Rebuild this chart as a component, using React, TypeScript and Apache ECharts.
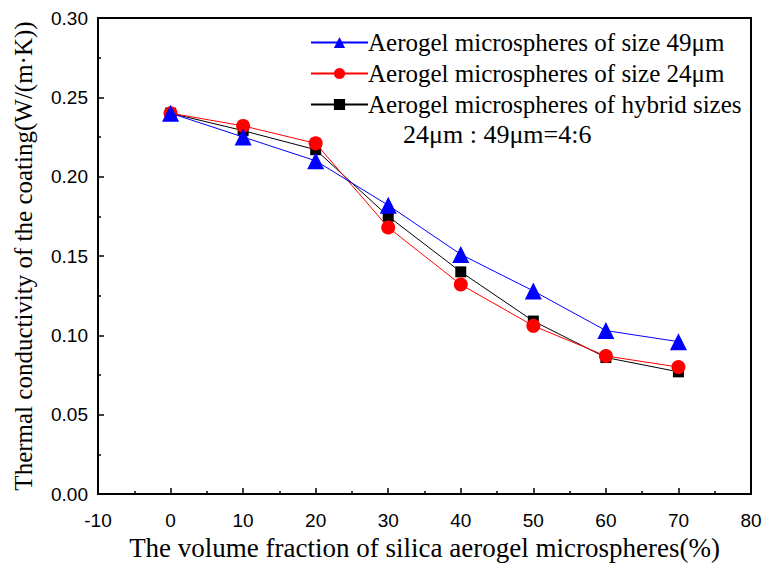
import React, { useEffect, useRef } from "react";
import * as echarts from "echarts";

const xValues = [0, 10, 20, 30, 40, 50, 60, 70];
const size49 = [0.240, 0.225, 0.210, 0.182, 0.151, 0.128, 0.103, 0.096];
const size24 = [0.240, 0.232, 0.221, 0.168, 0.132, 0.106, 0.087, 0.080];
const hybrid = [0.240, 0.229, 0.217, 0.175, 0.140, 0.109, 0.086, 0.077];
const seriesNames = [
  "Aerogel microspheres of size 49μm",
  "Aerogel microspheres of size 24μm",
  "Aerogel microspheres of hybrid sizes",
];
const ratioNote = "24μm : 49μm=4:6";
const xTitle = "The volume fraction of silica aerogel microspheres(%)";
const yTitle = "Thermal conductivity of the coating(W/(m·K))";

export default function App() {
  const ref = useRef<HTMLDivElement>(null);
  useEffect(() => {
    const chart = echarts.init(ref.current!, undefined, { renderer: "svg" });
    const pair = (arr: number[]) => xValues.map((x, i) => [x, arr[i]]);
    const serif = "Liberation Serif";
    const sans = "Liberation Sans";
    chart.setOption({
      animation: false,
      backgroundColor: "#fff",
      grid: {
        left: 98,
        right: 13,
        top: 18,
        bottom: 72,
        containLabel: false,
        outerBoundsMode: "none",
        show: true,
        borderColor: "#000",
        borderWidth: 2,
        backgroundColor: "transparent",
      },
      xAxis: {
        type: "value",
        min: -10,
        max: 80,
        interval: 10,
        name: xTitle,
        nameLocation: "middle",
        nameGap: 40,
        nameTextStyle: { fontFamily: serif, fontSize: 27, color: "#000" },
        axisLine: { onZero: false, lineStyle: { color: "#000", width: 2 } },
        axisTick: { inside: true, length: 6, lineStyle: { color: "#000", width: 1.5 } },
        minorTick: { show: true, splitNumber: 2, length: 3, lineStyle: { color: "#000", width: 1.5 } },
        axisLabel: { fontFamily: sans, fontSize: 19, color: "#000", margin: 17 },
        splitLine: { show: false },
      },
      yAxis: {
        type: "value",
        min: 0,
        max: 0.3,
        interval: 0.05,
        name: yTitle,
        nameLocation: "middle",
        nameGap: 62,
        nameTextStyle: { fontFamily: serif, fontSize: 25, color: "#000" },
        axisLine: { onZero: false, lineStyle: { color: "#000", width: 2 } },
        axisTick: { inside: true, length: 6, lineStyle: { color: "#000", width: 1.5 } },
        minorTick: { show: true, splitNumber: 2, length: 3, lineStyle: { color: "#000", width: 1.5 } },
        axisLabel: {
          fontFamily: sans,
          fontSize: 19,
          color: "#000",
          margin: 10,
          formatter: (v: number) => v.toFixed(2),
        },
        splitLine: { show: false },
      },
      legend: {
        orient: "vertical",
        left: 305,
        top: 25,
        itemWidth: 57,
        itemHeight: 14,
        itemGap: 6,
        textStyle: {
          fontFamily: serif,
          fontSize: 25,
          color: "#000",
          padding: [0, 0, 0, -5],
        },
        data: seriesNames,
      },
      graphic: [
        {
          type: "text",
          left: 403,
          top: 121,
          style: { text: ratioNote, fontFamily: serif, fontSize: 26, fill: "#000" },
        },
      ],
      series: [
        {
          name: seriesNames[0],
          type: "line",
          data: pair(size49),
          symbol: "triangle",
          symbolSize: 17,
          itemStyle: { color: "#0000ff" },
          lineStyle: { color: "#0000ff", width: 1 },
          z: 3,
        },
        {
          name: seriesNames[1],
          type: "line",
          data: pair(size24),
          symbol: "circle",
          symbolSize: 14,
          itemStyle: { color: "#ff0000" },
          lineStyle: { color: "#ff0000", width: 1 },
          z: 2,
        },
        {
          name: seriesNames[2],
          type: "line",
          data: pair(hybrid),
          symbol: "rect",
          symbolSize: 11,
          itemStyle: { color: "#000" },
          lineStyle: { color: "#000", width: 1 },
          z: 1,
        },
      ],
    });
    return () => chart.dispose();
  }, []);
  return (
    <div
      ref={ref}
      style={{ position: "fixed", left: 0, top: 0, width: 764, height: 566 }}
    />
  );
}
